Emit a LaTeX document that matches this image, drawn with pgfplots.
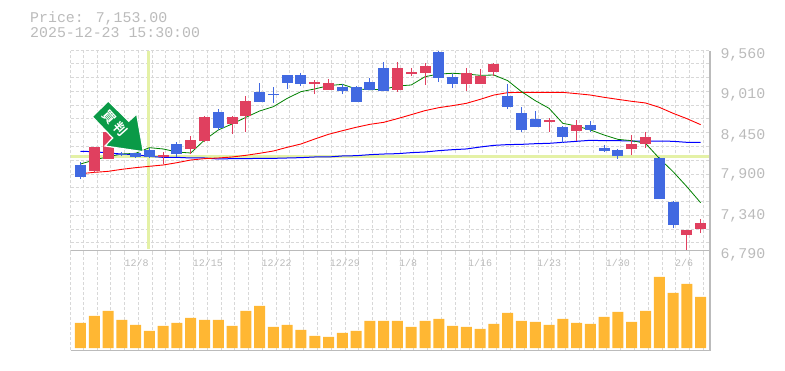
\documentclass[border=0pt]{standalone}
\usepackage{fontspec}
\usepackage{pgfplots}
\pgfplotsset{compat=1.18}
\setmainfont{Liberation Mono}
\newfontfamily\cjk{Noto Sans CJK JP Bold}
\definecolor{lab}{HTML}{BBBBBB}
\definecolor{gridc}{HTML}{D8D8D8}
\definecolor{upc}{HTML}{4169E1}
\definecolor{dnc}{HTML}{E0405F}
\definecolor{vol}{HTML}{FFB733}
\definecolor{hair}{HTML}{E4F1A6}
\definecolor{arrowg}{HTML}{0A9A47}
\pgfplotsset{
  gridstyle/.style={
    scale only axis,
    axis line style={draw=none},
    major tick length=0pt, minor tick length=0pt,
    xmin=-0.711, xmax=45.68,
    width=639.3pt,
    minor xtick={-0.711,0.2,1.2,...,45.2},
    xminorgrids=true,
    minor grid style={draw=gridc,line width=1pt,dash pattern=on 3pt off 2pt},
  },
  wick/.style={no markers,draw=none,forget plot,
    error bars/.cd,y dir=both,y explicit,error mark=none,
    error bar style={draw=#1,line width=1pt,solid}},
  body/.style={no markers,draw=none,forget plot,
    error bars/.cd,y dir=both,y explicit,error mark=none,
    error bar style={draw=#1,line width=11pt,solid}},
}
\begin{document}
\begin{tikzpicture}[x=1pt,y=1pt]
\path[use as bounding box] (0,0) rectangle (785,370);
% volume panel
\begin{axis}[gridstyle,at={(70.7pt,20pt)},anchor=south west,height=100pt,
  ymin=-2,ymax=98,ytick=\empty,xtick={-0.711},xticklabels={},ybar,bar width=11pt,bar shift=0pt]
\addplot[fill=vol,draw=none] coordinates {
(0,25)(1,32)(2,37)(3,28)(4,23)(5,17)(6,22)(7,25)(8,30)(9,28)(10,28)(11,22)(12,37)(13,42)(14,21)(15,23)(16,18)(17,12)(18,11)(19,15)(20,17)(21,27)(22,27)
(23,27)(24,21)(25,27)(26,29)(27,22)(28,21)(29,19)(30,24)(31,35)(32,27)(33,26)(34,23)(35,29)(36,25)(37,24)(38,31)(39,36)(40,26)(41,37)(42,71)(43,55)(44,64)(45,51)};
\end{axis}
% price panel
\begin{axis}[gridstyle,at={(70.7pt,116.7pt)},anchor=south west,height=202.6pt,
  ymin=6790,ymax=9596,
  ytick={6790,7340,7900,8450,9010,9560},
  yticklabel pos=right,
  yticklabel style={font=\fontsize{14.9}{15}\selectfont,text=lab,anchor=west,xshift=7pt,yshift=-2pt,
    /pgf/number format/.cd,fixed,1000 sep={,},assume math mode=true},
  minor ytick={6942,7117,7311,7505,7699,7879,8073,8266,8460,8654,8840,9034,9228,9422,9596},
  yminorgrids=true,
  xtick={4.08,9.25,14.24,19.19,23.77,29,34,39,43.8},
  xticklabels={12/8,12/15,12/22,12/29,1/8,1/16,1/23,1/30,2/6},
  xticklabel style={font=\fontsize{10}{11}\selectfont,text=lab,yshift=-2pt},
  ]
\addplot[hair,line width=3pt,forget plot] coordinates {(4.93,6850)(4.93,9596)};
\addplot[hair,line width=3pt,forget plot] coordinates {(-0.711,8137)(45.68,8137)};
% moving averages
\addplot[blue,line width=1pt] coordinates {
(0,8202)(1,8198)(2,8179)(3,8165)(4,8156)(5,8133)(6,8119)(7,8119)(8,8110)(9,8110)(10,8096)(11,8101)(12,8101)(13,8105)(14,8105)(15,8110)(16,8115)(17,8124)(18,8124)(19,8138)(20,8142)(21,8156)(22,8165)(23,8170)(24,8184)(25,8193)(26,8212)(27,8225)(28,8235)(29,8262)(30,8285)(31,8295)(32,8299)(33,8308)(34,8313)(35,8327)(36,8341)(37,8355)(38,8350)(39,8350)(40,8345)(41,8345)(42,8345)(43,8341)(44,8327)(45,8327)};
\addplot[red,line width=0.9pt] coordinates {
(0,7893)(1,7911)(2,7925)(3,7953)(4,7976)(5,7995)(6,8013)(7,8045)(8,8082)(9,8101)(10,8110)(11,8124)(12,8147)(13,8175)(14,8207)(15,8258)(16,8304)(17,8373)(18,8438)(19,8488)(20,8535)(21,8576)(22,8604)(23,8655)(24,8710)(25,8766)(26,8807)(27,8835)(28,8867)(29,8922)(30,8982)(31,9015)(32,9019)(33,9019)(34,9019)(35,9019)(36,9001)(37,8982)(38,8950)(39,8922)(40,8895)(41,8872)(42,8812)(43,8729)(44,8655)(45,8572)};
\addplot[green!50!black,line width=0.8pt] coordinates {
(0,8027)(1,8082)(2,8128)(3,8165)(4,8175)(5,8253)(6,8235)(7,8193)(8,8179)(9,8359)(10,8498)(11,8581)(12,8673)(13,8761)(14,8821)(15,8936)(16,9029)(17,9066)(18,9112)(19,9130)(20,9066)(21,9056)(22,9061)(23,9107)(24,9121)(25,9236)(26,9273)(27,9283)(28,9273)(29,9255)(30,9259)(31,9181)(32,9029)(33,8904)(34,8798)(35,8590)(36,8553)(37,8498)(38,8428)(39,8368)(40,8350)(41,8313)(42,8105)(43,7921)(44,7713)(45,7491)};
% wicks: low, high
\addplot[wick=upc] table[x=i,y=lo,y error plus expr=\thisrow{hi}-\thisrow{lo},y error minus expr=0] {
i lo hi
0 7819 8054
3 8144 8193
4 8110 8179
5 8110 8244
7 8124 8331
10 8497 8788
13 8885 9148
14 8871 9093
15 9065 9259
16 9107 9287
19 8996 9135
20 8885 9107
21 9052 9218
22 9038 9439
26 9162 9595
27 9079 9273
31 8788 9135
32 8470 8816
33 8539 8761
35 8317 8553
37 8470 8622
38 8193 8290
39 8096 8234
42 7542 8124
43 7140 7514
};
\addplot[wick=dnc] table[x=i,y=lo,y error plus expr=\thisrow{hi}-\thisrow{lo},y error minus expr=0] {
i lo hi
1 7898 8262
2 8096 8470
6 8027 8193
8 8165 8414
9 8331 8691
11 8442 8691
12 8470 8968
17 8996 9190
18 9052 9204
23 9024 9439
24 9245 9356
25 9121 9425
28 9038 9356
29 9135 9342
30 9245 9425
34 8470 8664
36 8345 8636
40 8151 8428
41 8248 8470
44 6836 7113
45 7071 7265
};
% bodies: bottom, top
\addplot[body=upc] table[x=i,y=b,y error plus expr=\thisrow{t}-\thisrow{b},y error minus expr=0] {
i b t
0 7847 8013
3 8151 8165
4 8128 8179
5 8124 8220
7 8165 8304
10 8525 8747
13 8885 9024
14 8982 8996
15 9148 9259
16 9135 9259
19 9038 9093
20 8885 9093
21 9052 9162
22 9038 9356
26 9218 9578
27 9135 9232
31 8816 8968
32 8497 8733
33 8539 8650
35 8400 8539
37 8497 8567
38 8207 8248
39 8137 8220
42 7542 8110
43 7182 7500
};
\addplot[body=dnc] table[x=i,y=b,y error plus expr=\thisrow{t}-\thisrow{b},y error minus expr=0] {
i b t
1 7930 8262
2 8096 8470
6 8124 8151
8 8234 8359
9 8345 8678
11 8581 8678
12 8691 8899
17 9135 9162
18 9052 9148
23 9052 9356
24 9273 9301
25 9287 9384
28 9135 9287
29 9135 9245
30 9301 9412
34 8608 8636
36 8484 8567
40 8234 8304
41 8304 8400
44 7043 7113
45 7126 7209
};
\end{axis}
% frame lines
\draw[lab,line width=1.2pt] (70.7,119.5)--(710,119.5);
\draw[lab,line width=1.2pt] (70.7,19.5)--(710,19.5);
\draw[lab,line width=1.2pt] (710,19.5)--(710,319.3);
% header
\node[anchor=west,inner sep=0pt,text=lab,font=\fontsize{14.9}{15}\selectfont] at (30,352) {Price: 7,153.00};
\node[anchor=west,inner sep=0pt,text=lab,font=\fontsize{14.9}{15}\selectfont] at (30,337) {2025-12-23 15:30:00};
% arrow
\fill[arrowg,draw=white,line width=1.2pt]
 (92.3,253.3)--(108.3,269)--(128.7,248.7)--(136.7,256)--(143.3,218.3)--(105,224)--(112.7,232)--cycle;
\node[text=white,rotate=-48,font=\cjk\fontsize{13}{14}\selectfont,inner sep=0pt] at (115,247) {買\hspace{4pt}判};
\end{tikzpicture}
\end{document}
